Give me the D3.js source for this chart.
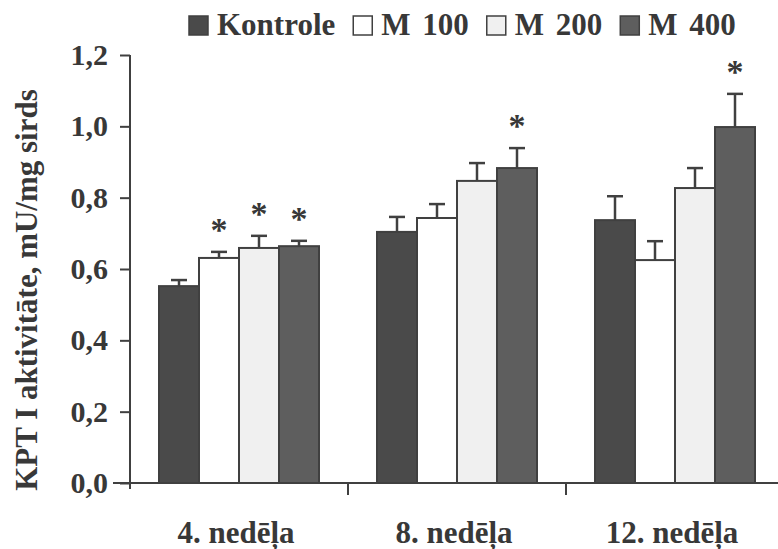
<!DOCTYPE html>
<html>
<head>
<meta charset="utf-8">
<script src="https://cdn.jsdelivr.net/npm/d3@7"></script>
<style>
  html, body { margin: 0; padding: 0; background: #fff; }
  svg { display: block; }
  text { font-family: "Liberation Serif", "Times New Roman", serif; font-weight: bold; fill: #383838; }
</style>
</head>
<body>
<svg id="chart" width="778" height="549"></svg>
<script>
// Weeks of treatment and dose groups
const weeks = ["4. nedēļa", "8. nedēļa", "12. nedēļa"];
const groups = ["Kontrole", "M 100", "M 200", "M 400"];

// Mean KPT I activity (mU/mg heart) per group, one array per week
const week4 = [0.552, 0.631, 0.659, 0.664];
const week8 = [0.704, 0.743, 0.847, 0.883];
const week12 = [0.737, 0.625, 0.827, 0.998];

// Standard errors
const err4 = [0.017, 0.017, 0.034, 0.015];
const err8 = [0.042, 0.039, 0.050, 0.056];
const err12 = [0.067, 0.053, 0.056, 0.093];

// Significant difference from control (true = marked with *)
const sig4 = [false, true, true, true];
const sig8 = [false, false, false, true];
const sig12 = [false, false, false, true];

const yTicks = [0, 0.2, 0.4, 0.6, 0.8, 1.0, 1.2];

const fills = ["#4a4a4a", "#ffffff", "#f0f0f0", "#5e5e5e"];
const ink = "#404040";
const serif = "Liberation Serif, Times New Roman, serif";

const rows = [
  { week: weeks[0], means: week4, errs: err4, sig: sig4 },
  { week: weeks[1], means: week8, errs: err8, sig: sig8 },
  { week: weeks[2], means: week12, errs: err12, sig: sig12 }
];

const svg = d3.select("#chart");

const x0 = d3.scaleBand().domain(weeks).range([130, 784]).padding(0);
const x1 = d3.scaleBand().domain(groups).range([0, x0.bandwidth()])
  .paddingInner(0).paddingOuter(0.725);
const y = d3.scaleLinear().domain([0, 1.2]).range([483, 55]);

// Bars
const gWeek = svg.append("g").selectAll("g").data(rows).join("g")
  .attr("transform", d => `translate(${x0(d.week)},0)`);

const cells = gWeek.selectAll("g.cell")
  .data(d => groups.map((g, i) => ({ g, i, v: d.means[i], e: d.errs[i], s: d.sig[i] })))
  .join("g").attr("class", "cell");

// Error bars (drawn first, bars cover their base)
cells.append("line")
  .attr("x1", d => x1(d.g) + x1.bandwidth() / 2)
  .attr("x2", d => x1(d.g) + x1.bandwidth() / 2)
  .attr("y1", d => y(d.v))
  .attr("y2", d => y(d.v + d.e))
  .attr("stroke", ink).attr("stroke-width", 2.5);
cells.append("line")
  .attr("x1", d => x1(d.g) + x1.bandwidth() / 2 - 8)
  .attr("x2", d => x1(d.g) + x1.bandwidth() / 2 + 8)
  .attr("y1", d => y(d.v + d.e))
  .attr("y2", d => y(d.v + d.e))
  .attr("stroke", ink).attr("stroke-width", 2.5);

cells.append("rect")
  .attr("x", d => x1(d.g))
  .attr("width", x1.bandwidth())
  .attr("y", d => y(d.v))
  .attr("height", d => y(0) - y(d.v))
  .attr("fill", d => fills[d.i])
  .attr("stroke", ink).attr("stroke-width", 2);

// Significance marks
cells.filter(d => d.s).append("text")
  .attr("x", d => x1(d.g) + x1.bandwidth() / 2)
  .attr("y", d => y(d.v + d.e) - 11)
  .attr("text-anchor", "middle")
  .attr("font-size", 34)
  .text("*");

// Y axis
const yAxis = svg.append("g").attr("transform", "translate(130,0)")
  .call(d3.axisLeft(y).tickValues(yTicks).tickSize(10).tickSizeOuter(0)
    .tickFormat(d => d3.format(".1f")(d).replace(".", ",")));
yAxis.select(".domain").attr("stroke", ink).attr("stroke-width", 2)
  .attr("d", `M0,${y(1.2)}V${y(0) + 6}`);
yAxis.selectAll(".tick line").attr("stroke", ink).attr("stroke-width", 2);
yAxis.selectAll(".tick text").attr("x", -22).attr("font-size", 30)
  .attr("font-family", serif).attr("fill", "#383838")
  .attr("font-weight", "bold");

// X axis
const xAxis = svg.append("g").attr("transform", `translate(0,${y(0)})`)
  .call(d3.axisBottom(x0).tickSize(0).tickSizeOuter(0));
xAxis.select(".domain").attr("stroke", ink).attr("stroke-width", 2)
  .attr("d", "M113,0H778");
xAxis.selectAll(".tick text").attr("dy", 0).attr("y", 60).attr("dx", -3)
  .attr("font-size", 31)
  .attr("font-family", serif).attr("fill", "#383838")
  .attr("font-weight", "bold");
// Boundary ticks between weeks
svg.append("g").selectAll("line").data(weeks.slice(1)).join("line")
  .attr("x1", d => x0(d)).attr("x2", d => x0(d))
  .attr("y1", y(0)).attr("y2", y(0) + 12)
  .attr("stroke", ink).attr("stroke-width", 2);

// Y axis title
svg.append("text")
  .attr("transform", `translate(37,${(y(0) + y(1.2)) / 2 + 21}) rotate(-90)`)
  .attr("text-anchor", "middle")
  .attr("font-size", 31)
  .text("KPT I aktivitāte, mU/mg sirds");

// Legend
const legend = svg.append("g");
let lx = 189;
groups.forEach((g, i) => {
  legend.append("rect")
    .attr("x", lx).attr("y", 16).attr("width", 19).attr("height", 19)
    .attr("fill", fills[i]).attr("stroke", ink).attr("stroke-width", 1.5);
  const t = legend.append("text")
    .attr("x", lx + 28).attr("y", 35)
    .attr("font-size", 31)
    .attr("word-spacing", 4)
    .text(g);
  lx += 28 + t.node().getComputedTextLength() + 18;
});
</script>
</body>
</html>
